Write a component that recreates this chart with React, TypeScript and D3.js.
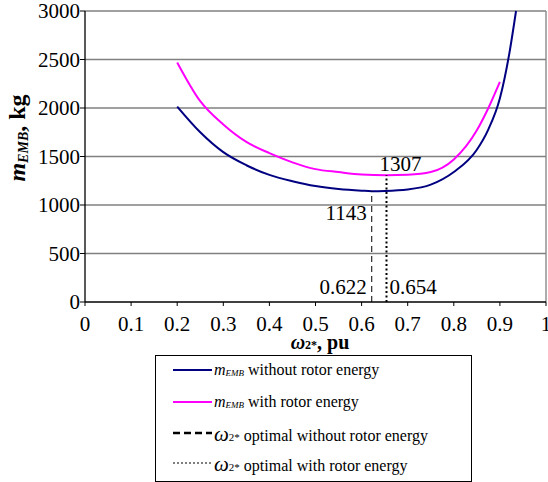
import React from "react";
import * as d3 from "d3";

// blue curve: mass without rotor energy
const massNoRotorX = [0.2, 0.25, 0.3, 0.35, 0.4, 0.45, 0.5, 0.55, 0.6, 0.622, 0.65, 0.7, 0.75, 0.8, 0.85, 0.875, 0.9, 0.92, 0.935];
const massNoRotorY = [2015, 1750, 1545, 1410, 1310, 1245, 1195, 1165, 1148, 1143, 1145, 1160, 1210, 1340, 1570, 1780, 2100, 2550, 3000];

// magenta curve: mass with rotor energy
const massRotorX = [0.2, 0.25, 0.3, 0.35, 0.4, 0.45, 0.5, 0.55, 0.6, 0.654, 0.7, 0.75, 0.8, 0.85, 0.875, 0.9];
const massRotorY = [2470, 2070, 1830, 1650, 1535, 1440, 1370, 1340, 1315, 1307, 1312, 1340, 1470, 1770, 2000, 2270];

// optimum markers
const optNoRotor = { w: 0.622, m: 1143 };
const optRotor = { w: 0.654, m: 1307 };

const xTicks = [0, 0.1, 0.2, 0.3, 0.4, 0.5, 0.6, 0.7, 0.8, 0.9, 1];
const yTicks = [0, 500, 1000, 1500, 2000, 2500, 3000];

const F = "serif";

export default function App() {
  const x = d3.scaleLinear().domain([0, 1]).range([85, 546]);
  const y = d3.scaleLinear().domain([0, 3000]).range([302, 11]);

  const line = d3
    .line<[number, number]>()
    .x(d => x(d[0]))
    .y(d => y(d[1]))
    .curve(d3.curveMonotoneX);

  const blue = line(massNoRotorX.map((v, i) => [v, massNoRotorY[i]]) as [number, number][]);
  const pink = line(massRotorX.map((v, i) => [v, massRotorY[i]]) as [number, number][]);

  const legendRows = [
    { y: 370, stroke: "#000080", width: 2, dash: undefined, kind: "m", text: " without rotor energy" },
    { y: 402, stroke: "#ff00ff", width: 2, dash: undefined, kind: "m", text: " with rotor energy" },
    { y: 433, stroke: "#000", width: 2.5, dash: "7,4", kind: "w", text: " optimal without rotor energy" },
    { y: 463, stroke: "#000", width: 1, dash: "2,2", kind: "w", text: " optimal with rotor energy" },
  ];

  return (
    <div style={{ position: "absolute", left: 0, top: 0 }}>
      <svg width={548} height={482} style={{ display: "block" }}>
        <rect width={548} height={482} fill="#fff" />

        {/* gridlines */}
        {yTicks.filter(t => t > 0).map(t => (
          <line key={t} x1={x(0)} x2={x(1)} y1={y(t)} y2={y(t)} stroke="#808080" strokeWidth={1.3} />
        ))}
        <line x1={x(1)} x2={x(1)} y1={y(3000)} y2={y(0)} stroke="#808080" strokeWidth={1.3} />

        {/* curves */}
        <path d={pink || ""} fill="none" stroke="#ff00ff" strokeWidth={2} />
        <path d={blue || ""} fill="none" stroke="#000080" strokeWidth={2} />

        {/* optimum verticals */}
        <line x1={x(optNoRotor.w)} x2={x(optNoRotor.w)} y1={y(0)} y2={y(optNoRotor.m)} stroke="#000" strokeWidth={1} strokeDasharray="6,4" />
        <line x1={x(optRotor.w)} x2={x(optRotor.w)} y1={y(0)} y2={y(optRotor.m)} stroke="#000" strokeWidth={2} strokeDasharray="2,2.5" />

        {/* annotations */}
        <text fontFamily={F} fontSize={21} x={x(optNoRotor.w) - 5} y={y(optNoRotor.m) + 29} textAnchor="end">{optNoRotor.m}</text>
        <text fontFamily={F} fontSize={21} x={x(optRotor.w) - 7} y={y(optRotor.m) - 4}>{optRotor.m}</text>
        <text fontFamily={F} fontSize={21} x={x(optNoRotor.w) - 5} y={294} textAnchor="end">{optNoRotor.w}</text>
        <text fontFamily={F} fontSize={21} x={x(optRotor.w) + 3} y={294}>{optRotor.w}</text>

        {/* axes */}
        <line x1={x(0)} x2={x(0)} y1={y(3000)} y2={y(0)} stroke="#000" strokeWidth={1.3} />
        <line x1={x(0)} x2={x(1)} y1={y(0)} y2={y(0)} stroke="#000" strokeWidth={1.3} />
        {yTicks.map(t => (
          <g key={t}>
            <line x1={x(0) - 5} x2={x(0)} y1={y(t)} y2={y(t)} stroke="#000" />
            <text fontFamily={F} x={x(0) - 5} y={y(t) + 7} textAnchor="end" fontSize={21}>{t}</text>
          </g>
        ))}
        {xTicks.map(t => (
          <g key={t}>
            <line x1={x(t)} x2={x(t)} y1={y(0)} y2={y(0) + 4} stroke="#000" />
            <text fontFamily={F} x={x(t)} y={331} textAnchor="middle" fontSize={21}>{t}</text>
          </g>
        ))}

        {/* axis titles */}
        <text fontFamily={F} x={320} y={349} textAnchor="middle" fontSize={20} fontWeight="bold">
          <tspan fontStyle="italic">ω</tspan>
          <tspan fontSize={12}>2*</tspan>
          <tspan>, pu</tspan>
        </text>
        <text fontFamily={F} transform="translate(25,138) rotate(-90)" textAnchor="middle" fontSize={24} fontWeight="bold">
          <tspan fontStyle="italic">m</tspan>
          <tspan fontSize={14} fontStyle="italic" dy={3}>EMB</tspan>
          <tspan dy={-3}>, kg</tspan>
        </text>

        {/* legend */}
        <rect x={155.5} y={355.5} width={316} height={126} fill="#fff" stroke="#000" strokeWidth={1} />
        {legendRows.map(r => (
          <g key={r.text}>
            <line x1={173} x2={212} y1={r.y} y2={r.y} stroke={r.stroke} strokeWidth={r.width} strokeDasharray={r.dash} />
            {r.kind === "m" ? (
              <text fontFamily={F} x={214} y={r.y + 5} fontSize={16}>
                <tspan fontStyle="italic">m</tspan>
                <tspan fontSize={9} fontStyle="italic" dy={1}>EMB</tspan>
                <tspan dy={-1}>{r.text}</tspan>
              </text>
            ) : (
              <text fontFamily={F} x={214} y={r.y + 8} fontSize={16}>
                <tspan fontStyle="italic" fontSize={21}>ω</tspan>
                <tspan fontSize={11}>2*</tspan>
                <tspan>{r.text}</tspan>
              </text>
            )}
          </g>
        ))}
      </svg>
    </div>
  );
}
